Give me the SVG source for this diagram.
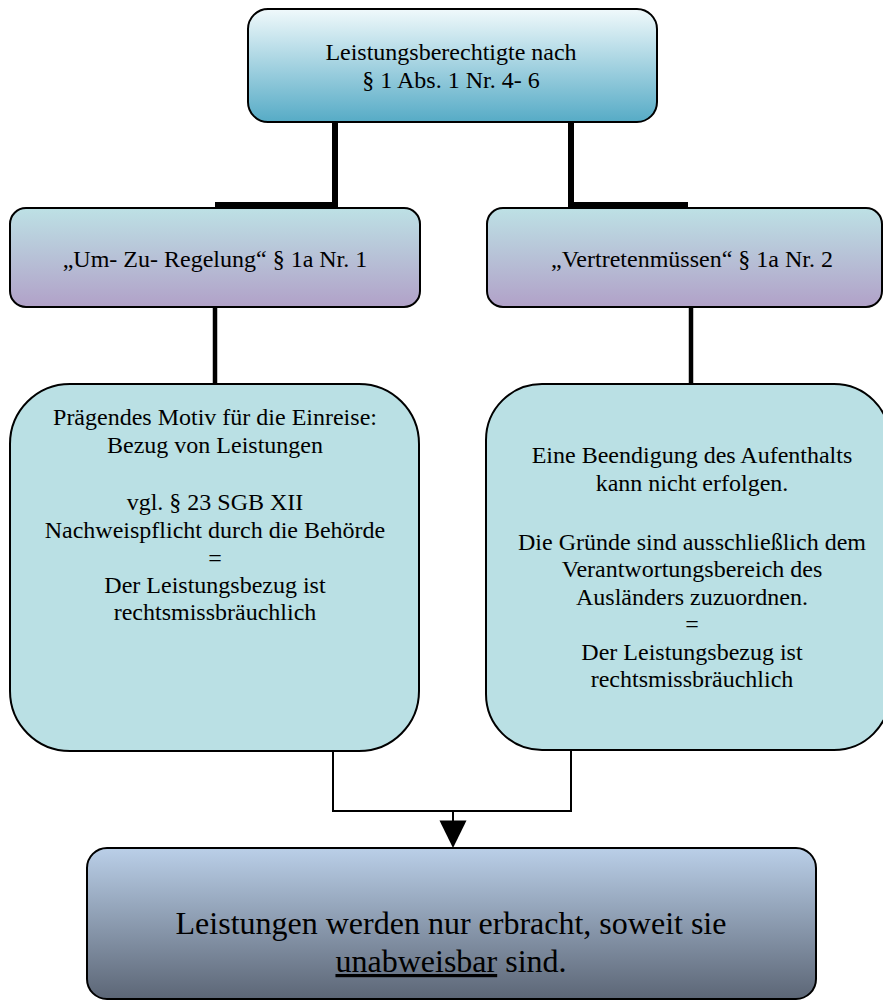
<svg xmlns="http://www.w3.org/2000/svg" width="883" height="1001" viewBox="0 0 883 1001">
<defs>
<linearGradient id="gTop" x1="0" y1="0" x2="0" y2="1">
<stop offset="0" stop-color="#f0f9fb"/>
<stop offset="1" stop-color="#56abc6"/>
</linearGradient>
<linearGradient id="gMid" x1="0" y1="0" x2="0" y2="1">
<stop offset="0" stop-color="#bde1e5"/>
<stop offset="1" stop-color="#b1a1c8"/>
</linearGradient>
<linearGradient id="gBot" x1="0" y1="0" x2="0" y2="1">
<stop offset="0" stop-color="#bacfe8"/>
<stop offset="1" stop-color="#5c6676"/>
</linearGradient>
<marker id="arr" viewBox="0 0 27 28" refX="13.5" refY="28" markerWidth="27" markerHeight="28" markerUnits="userSpaceOnUse" orient="auto-start-reverse">
<path d="M0,0 L27,0 L13.5,28 Z" fill="#000"/>
</marker>
</defs>
<style>
.box{stroke:#000;stroke-width:2}
.t{font-family:"Liberation Serif","Times New Roman",serif;font-size:24px;fill:#000;text-anchor:middle}
.tb{font-family:"Liberation Serif","Times New Roman",serif;font-size:32px;fill:#000;text-anchor:middle}
.thick{stroke:#000;stroke-width:6;fill:none}
.med{stroke:#000;stroke-width:4.5;fill:none}
.thin{stroke:#000;stroke-width:2;fill:none}
</style>
<g id="connectors">
<path class="thick" d="M335,122 V205 H215"/>
<path class="thick" d="M571,122 V205 H688"/>
<path class="med" d="M215,307 V384"/>
<path class="med" d="M691,307 V384"/>
<path class="thin" d="M333,751 V811 H571 V750"/>
<path class="thin" d="M453,811 V821" />
<path d="M439.5,820.5 L466.5,820.5 L453,848 Z" fill="#000"/>
</g>
<g id="top">
<rect class="box" x="248" y="9" width="409" height="113" rx="20" fill="url(#gTop)"/>
<text class="t" x="451" y="60">Leistungsberechtigte nach</text>
<text class="t" x="451" y="88">§ 1 Abs. 1 Nr. 4- 6</text>
</g>
<g id="midLeft">
<rect class="box" x="10" y="208" width="410" height="99" rx="16" fill="url(#gMid)"/>
<text class="t" x="215" y="267">„Um- Zu- Regelung“ § 1a Nr. 1</text>
</g>
<g id="midRight">
<rect class="box" x="487" y="208" width="395" height="99" rx="16" fill="url(#gMid)"/>
<text class="t" x="692" y="267">„Vertretenmüssen“ § 1a Nr. 2</text>
</g>
<g id="bigLeft">
<rect class="box" x="10" y="384" width="409" height="367" rx="60" fill="#bae0e4"/>
<text class="t" x="215" y="425">Prägendes Motiv für die Einreise:</text>
<text class="t" x="215" y="453">Bezug von Leistungen</text>
<text class="t" x="215" y="510">vgl. § 23 SGB XII</text>
<text class="t" x="215" y="538">Nachweispflicht durch die Behörde</text>
<text class="t" x="215" y="566">=</text>
<text class="t" x="215" y="593">Der Leistungsbezug ist</text>
<text class="t" x="215" y="620">rechtsmissbräuchlich</text>
</g>
<g id="bigRight">
<rect class="box" x="486" y="384" width="404" height="366" rx="56" fill="#bae0e4"/>
<text class="t" x="692" y="463">Eine Beendigung des Aufenthalts</text>
<text class="t" x="692" y="491">kann nicht erfolgen.</text>
<text class="t" x="692" y="550">Die Gründe sind ausschließlich dem</text>
<text class="t" x="692" y="577">Verantwortungsbereich des</text>
<text class="t" x="692" y="605">Ausländers zuzuordnen.</text>
<text class="t" x="692" y="632">=</text>
<text class="t" x="692" y="660">Der Leistungsbezug ist</text>
<text class="t" x="692" y="687">rechtsmissbräuchlich</text>
</g>
<g id="bottom">
<rect class="box" x="87" y="848" width="729" height="151" rx="20" fill="url(#gBot)"/>
<text class="tb" x="451" y="934">Leistungen werden nur erbracht, soweit sie</text>
<text class="tb" x="451" y="972"><tspan text-decoration="underline">unabweisbar</tspan> sind.</text>
</g>
</svg>
